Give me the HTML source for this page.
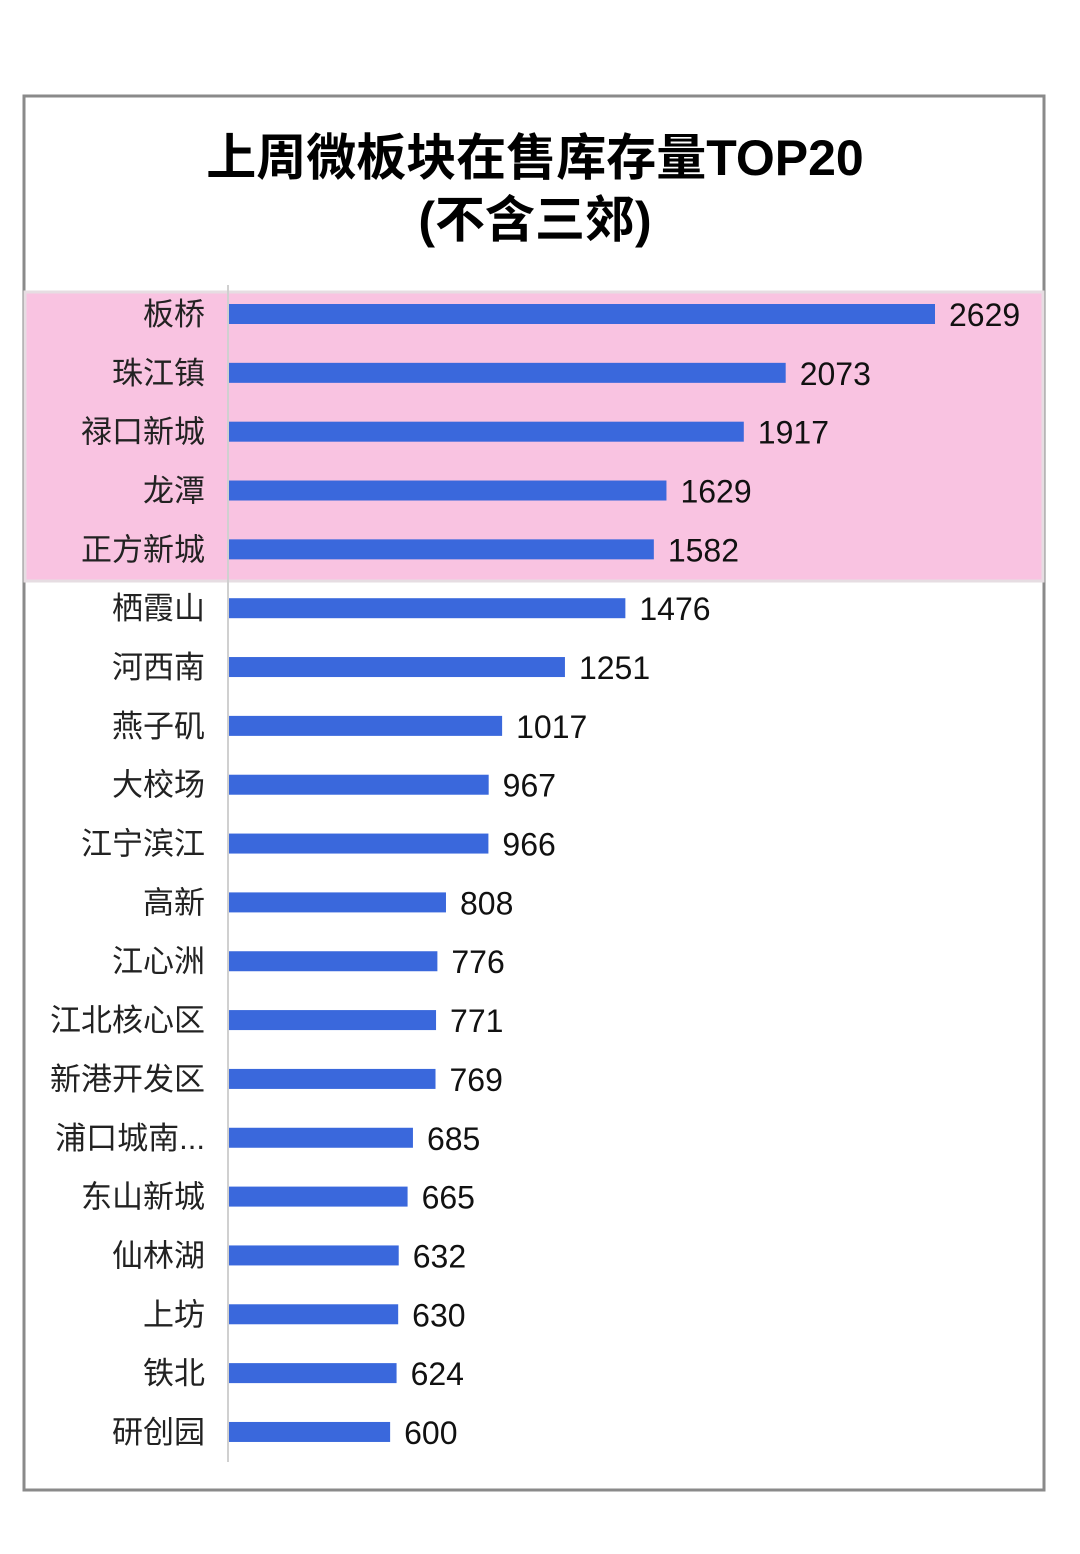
<!DOCTYPE html>
<html><head><meta charset="utf-8"><style>
body{margin:0;background:#fff;width:1080px;height:1549px;overflow:hidden;font-family:"Liberation Sans","Noto Sans CJK SC",sans-serif;}
</style></head><body>
<svg width="1080" height="1549" viewBox="0 0 1080 1549" xmlns="http://www.w3.org/2000/svg">
<rect x="24" y="96" width="1020" height="1394" fill="#fff" stroke="#8a8a8a" stroke-width="3"/>
<text x="535" y="175" text-anchor="middle" font-size="50" font-weight="bold" fill="#000" font-family="Liberation Sans, Noto Sans CJK SC, sans-serif">上周微板块在售库存量TOP20</text>
<text x="535" y="237" text-anchor="middle" font-size="50" font-weight="bold" fill="#000" font-family="Liberation Sans, Noto Sans CJK SC, sans-serif">(不含三郊)</text>
<rect x="25" y="292" width="1018" height="289" fill="#f9c3e1" stroke="#e6dde2" stroke-width="3"/>
<line x1="228" y1="285" x2="228" y2="1462" stroke="#d0d0d0" stroke-width="2"/>
<g id="bars"></g>
</svg>
<script>
const categories=["板桥","珠江镇","禄口新城","龙潭","正方新城","栖霞山","河西南","燕子矶","大校场","江宁滨江","高新","江心洲","江北核心区","新港开发区","浦口城南...","东山新城","仙林湖","上坊","铁北","研创园"];
const values=[2629,2073,1917,1629,1582,1476,1251,1017,967,966,808,776,771,769,685,665,632,630,624,600];
const x0=229, xScale=v=>x0+v*(706/2629);
const yBand=i=>314+i*58.84;
const g=document.getElementById('bars');
const NS="http://www.w3.org/2000/svg";
categories.forEach((c,i)=>{
  const y=yBand(i);
  const r=document.createElementNS(NS,'rect');
  r.setAttribute('x',x0);r.setAttribute('y',y-10);
  r.setAttribute('width',xScale(values[i])-x0);r.setAttribute('height',20);
  r.setAttribute('fill','#3a68dc');
  
  
  g.appendChild(r);
  const t=document.createElementNS(NS,'text');
  t.setAttribute('x',xScale(values[i])+14);t.setAttribute('y',y+12);
  t.setAttribute('font-size','32');t.setAttribute('fill','#111');
  t.textContent=values[i];
  
  
  g.appendChild(t);
  const l=document.createElementNS(NS,'text');
  l.setAttribute('x',205);l.setAttribute('y',y+11);
  l.setAttribute('font-size','31');l.setAttribute('fill','#222');l.setAttribute('text-anchor','end');
  l.textContent=c;
  
  
  g.appendChild(l);
});
</script>
</body></html>
